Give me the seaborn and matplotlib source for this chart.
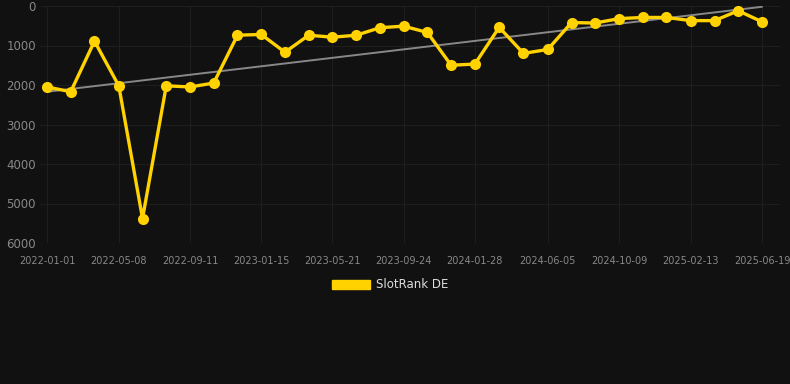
import matplotlib
matplotlib.use("Agg")
import matplotlib.pyplot as plt
import matplotlib.dates as mdates
from matplotlib.patches import Patch
import numpy as np
import pandas as pd
import seaborn as sns

dates = ["2022-01-01", "2022-02-12", "2022-03-26", "2022-05-08", "2022-06-19",
         "2022-07-31", "2022-09-11", "2022-10-23", "2022-12-04", "2023-01-15",
         "2023-02-26", "2023-04-09", "2023-05-21", "2023-07-02", "2023-08-13",
         "2023-09-24", "2023-11-05", "2023-12-17", "2024-01-28", "2024-03-11",
         "2024-04-23", "2024-06-05", "2024-07-17", "2024-08-28", "2024-10-09",
         "2024-11-20", "2025-01-01", "2025-02-13", "2025-03-27", "2025-05-08",
         "2025-06-19"]
rank = [2050, 2170, 890, 2020, 5380, 2020, 2050, 1950, 740, 720,
        1170, 740, 790, 740, 550, 510, 670, 1500, 1470, 540,
        1200, 1100, 420, 430, 320, 290, 290, 370, 370, 120,
        400]
tick_labels = ["2022-01-01", "2022-05-08", "2022-09-11", "2023-01-15", "2023-05-21",
               "2023-09-24", "2024-01-28", "2024-06-05", "2024-10-09", "2025-02-13",
               "2025-06-19"]
y_ticks = [0, 1000, 2000, 3000, 4000, 5000, 6000]
series_name = "SlotRank DE"

BG = "#111111"
YELLOW = "#FFD200"

df = pd.DataFrame({"date": pd.to_datetime(dates), "rank": rank})

sns.set_theme(style="dark")
plt.rcParams["font.family"] = ["DejaVu Sans"]

fig = plt.figure(figsize=(7.9, 3.84), dpi=100, facecolor=BG)
ax = fig.add_axes([40 / 790, 1 - 243 / 384, 740 / 790, 237 / 384])
ax.set_facecolor(BG)

# trend line (least squares fit)
xnum = mdates.date2num(df["date"])
coef = np.polyfit(xnum, df["rank"], 1)
trend = np.polyval(coef, xnum)
ax.plot(df["date"], trend, color="#888888", linewidth=1.4, zorder=2)

sns.lineplot(data=df, x="date", y="rank", ax=ax, color=YELLOW, linewidth=2.4,
             marker="o", markersize=8, markeredgewidth=0, zorder=3)

d0 = mdates.date2num(pd.Timestamp(dates[0]))
d1 = mdates.date2num(pd.Timestamp(dates[-1]))
per_px = (d1 - d0) / 715.0
ax.set_xlim(d0 - 7 * per_px, d1 + 18 * per_px)
ax.set_ylim(6000, 0)

ax.set_xticks(pd.to_datetime(tick_labels))
ax.set_xticklabels(tick_labels)
ax.set_yticks(y_ticks)
ax.set_yticklabels([str(v) for v in y_ticks])

ax.grid(True, color="#1e1e1e", linewidth=0.8)
for s in ax.spines.values():
    s.set_visible(False)
ax.tick_params(axis="x", colors="#888888", labelsize=7, length=0, pad=9)
ax.tick_params(axis="y", colors="#888888", labelsize=8.5, length=0, pad=3)
for lab in ax.get_xticklabels() + ax.get_yticklabels():
    lab.set_color("#888888")
ax.set_xlabel("")
ax.set_ylabel("")
if ax.get_legend() is not None:
    ax.get_legend().remove()

handle = Patch(facecolor=YELLOW, edgecolor=YELLOW)
leg = fig.legend([handle], [series_name], loc="center", bbox_to_anchor=(390 / 790, 1 - 285 / 384),
                 frameon=False, fontsize=8.5, handlelength=3.2, handleheight=0.9,
                 handletextpad=0.5)
for t in leg.get_texts():
    t.set_color("#dddddd")

fig.savefig("out.png", dpi=100, facecolor=BG)
